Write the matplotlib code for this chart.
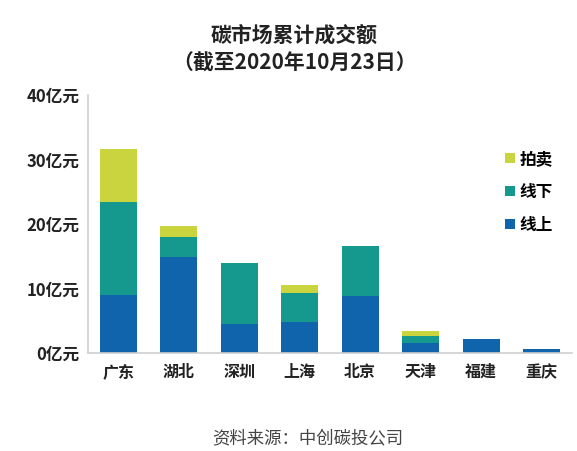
import numpy as np
import matplotlib.pyplot as plt

plt.rcParams['font.family'] = ['Noto Sans CJK SC', 'DejaVu Sans']

# data (亿元)
cities = ['广东', '湖北', '深圳', '上海', '北京', '天津', '福建', '重庆']
online = [9.0, 14.9, 4.4, 4.7, 8.8, 1.5, 2.2, 0.5]
offline = [14.4, 3.0, 9.5, 4.6, 7.7, 1.1, 0.0, 0.0]
auction = [8.3, 1.7, 0.0, 1.2, 0.0, 0.8, 0.0, 0.0]
yticks = [0, 10, 20, 30, 40]

c_on = '#1064ab'
c_off = '#15998f'
c_auc = '#c9d43e'

fig = plt.figure(figsize=(5.77, 4.51), dpi=100)
ax = fig.add_axes([0.1525, 0.218, 0.8385, 0.571])

x = np.arange(len(cities))
w = 0.61
on = np.array(online)
off = np.array(offline)
auc = np.array(auction)
ax.bar(x, on, width=w, color=c_on, label='线上')
ax.bar(x, off, width=w, bottom=on, color=c_off, label='线下')
ax.bar(x, auc, width=w, bottom=on + off, color=c_auc, label='拍卖')

ax.set_xlim(-0.5, 7.5)
ax.set_ylim(0, 40)
ax.set_yticks(yticks)
ax.set_yticklabels([f'{v}亿元' for v in yticks], fontsize=12, fontweight='bold', color='#222222')
ax.set_xticks(x)
ax.set_xticklabels(cities, fontsize=11.5, fontweight='bold', color='#222222')
ax.tick_params(axis='both', length=0, pad=8)
ax.tick_params(axis='y', pad=6)

for s in ['top', 'right']:
    ax.spines[s].set_visible(False)
for s in ['left', 'bottom']:
    ax.spines[s].set_color('#d0d0d0')
    ax.spines[s].set_linewidth(1.2)

h, l = ax.get_legend_handles_labels()
leg = ax.legend(h[::-1], l[::-1], loc='upper left', bbox_to_anchor=(0.83, 0.845),
                frameon=False, handlelength=0.6, handleheight=0.6, handletextpad=0.3,
                labelspacing=0.9, prop={'size': 12, 'weight': 'bold'})

fig.text(0.51, 0.922, '碳市场累计成交额', ha='center', va='center', fontsize=15, fontweight='bold', color='#222222')
fig.text(0.51, 0.860, '（截至2020年10月23日）', ha='center', va='center', fontsize=15, fontweight='bold', color='#222222')
fig.text(0.533, 0.029, '资料来源：中创碳投公司', ha='center', va='center', fontsize=12.5, color='#444444')

fig.savefig('out.png', dpi=100)
